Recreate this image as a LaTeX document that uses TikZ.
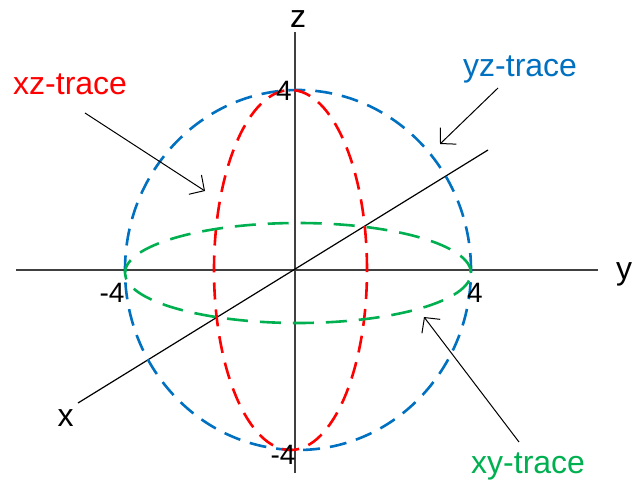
\documentclass[tikz,border=0pt]{standalone}
\usepackage{fontspec}
\setmainfont{Liberation Sans}
\usetikzlibrary{arrows.meta}
\definecolor{yzblue}{RGB}{0,112,192}
\definecolor{xygreen}{RGB}{0,176,80}

\begin{document}
\begin{tikzpicture}[
  x=1pt, y=-1pt,
  axisln/.style={draw=black!75, line width=1.4pt},
  trace/.style={line width=2.6pt, dash pattern=on 17pt off 10pt},
  ptr/.style={-{Straight Barb[length=11pt,width=23pt]}, line width=1pt},
  axlab/.style={inner sep=0pt, anchor=base, font=\fontsize{32}{38}\selectfont},
  numlab/.style={inner sep=0pt, font=\fontsize{28}{34}\selectfont},
  tracelab/.style={inner sep=0pt, anchor=base west, font=\fontsize{32}{38}\selectfont}
]
  \useasboundingbox (0,0) rectangle (634,481);

  % axes
  \coordinate (yneg) at (16,270);
  \coordinate (ypos) at (598,270);
  \coordinate (ztop) at (295,32);
  \coordinate (zbot) at (295,473);
  \coordinate (xpos) at (78,403);
  \coordinate (xneg) at (488,150);

  \draw[axisln] (yneg) -- (ypos);
  \draw[axisln] (zbot) -- (ztop);
  \draw[black, line width=1.2pt] (xpos) -- (xneg);

  \node[axlab] (zlab) at (298,28)  {z};
  \node[axlab] (xlab) at (65.5,426) {x};
  \node[axlab] (ylab) at (624,279) {y};

  % traces
  \draw[trace, yzblue]  (298,270) ellipse [x radius=173pt, y radius=180pt];
  \draw[trace, red]     (290.5,270) ellipse [x radius=76.5pt, y radius=180pt];
  \draw[trace, xygreen, dash pattern=on 21pt off 12pt]
    (298,273) ellipse [x radius=173pt, y radius=50pt];

  \node[numlab] (nztop) at (284,91)  {4};
  \node[numlab] (nzbot) at (283,455) {-4};
  \node[numlab] (nyneg) at (112,293) {-4};
  \node[numlab] (nypos) at (475,293) {4};

  % labels and pointers
  \node[tracelab, red]     (xzlab) at (13,95)   {xz-trace};
  \node[tracelab, yzblue]  (yzlab) at (463,77)  {yz-trace};
  \node[tracelab, xygreen] (xylab) at (471,473) {xy-trace};

  \coordinate (xzfrom) at (85,113);
  \coordinate (xzto)   at (205,191);
  \coordinate (yzfrom) at (498,88);
  \coordinate (yzto)   at (440,144);
  \coordinate (xyfrom) at (519,442);
  \coordinate (xyto)   at (424,317);

  \draw[ptr] (xzfrom) -- (xzto);
  \draw[ptr] (yzfrom) -- (yzto);
  \draw[ptr] (xyfrom) -- (xyto);
\end{tikzpicture}
\end{document}
